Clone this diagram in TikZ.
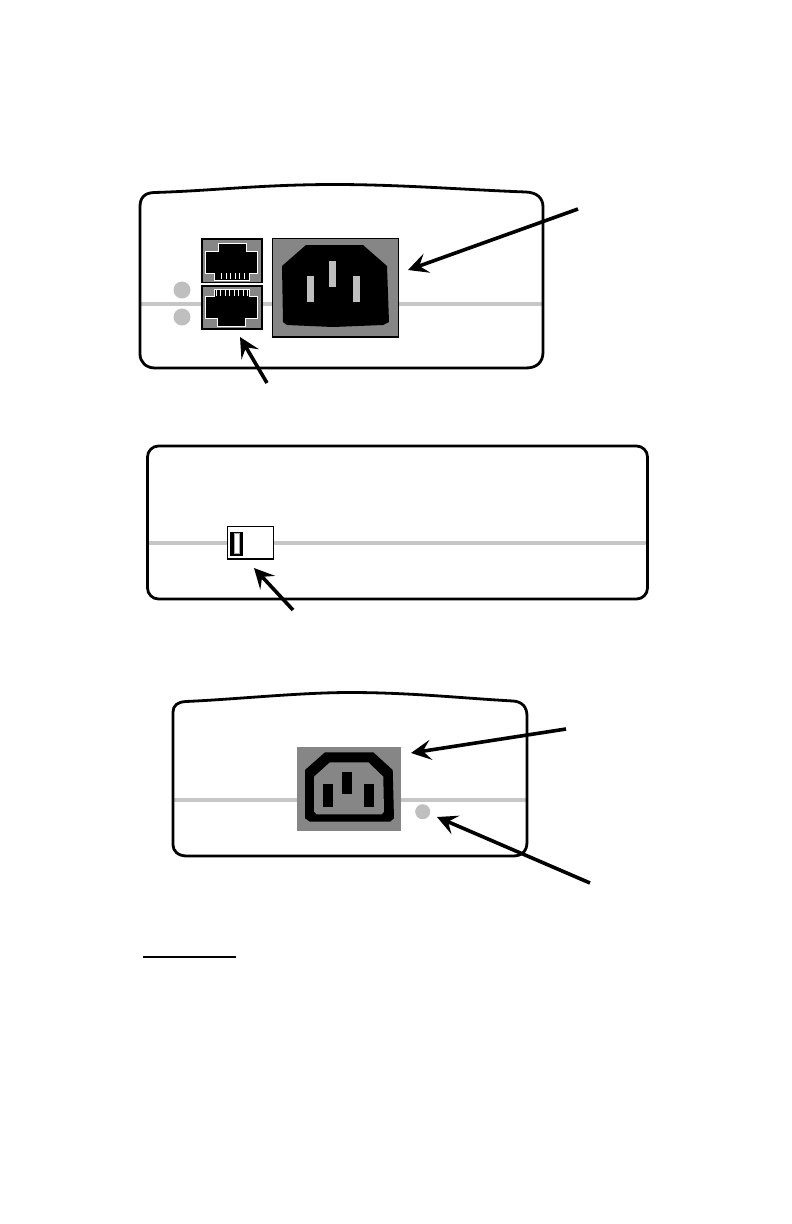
\documentclass[tikz,border=0pt]{standalone}
\usetikzlibrary{arrows.meta}

\tikzset{
 shell/.style={black, line width=2.8pt, line join=round},
 seam/.style={gray!45, line width=3.4pt},
 callout/.style={black, line width=3.6pt, -{Stealth[length=20pt,width=20pt,inset=8pt]}},
 panel/.style={fill=gray!95!white},
 lamp/.style={fill=gray!50},
 contact/.style={white, line width=1pt},
}

\begin{document}
\begin{tikzpicture}[x=1pt, y=-1pt]
\useasboundingbox (0,0) rectangle (792,1224);

% first housing
\draw[seam] (140,304)--(542,304);
\draw[shell] (140,207) .. controls (140,198) and (144,193) .. (154,192.5)
 .. controls (210,191) and (260,184.5) .. (335,184.5)
 .. controls (400,184.5) and (470,190) .. (526,192)
 .. controls (537,192.5) and (543,198) .. (543,207)
 -- (543,352) .. controls (543,362) and (537,368) .. (526,368)
 -- (155,368) .. controls (146,368) and (140,362) .. (140,354) -- cycle;
\fill[lamp] (182,290) circle (8.5);
\fill[lamp] (182,317) circle (8.5);

% upper jack
\draw[black, line width=1.8pt, panel] (201.7,239.3) rectangle (261.7,283);
\draw[white, line width=1pt, fill=black] (218.3,243.3)--(246.7,243.3)--(246.7,251)--(257.7,251)--(257.7,273.3)--(249,273.3)--(249,280)--(214,280)--(214,273.3)--(205,273.3)--(205,251)--(218.3,251)--cycle;
\foreach \x in {221.7,226.2,230.7,235.2,239.7,244.2} {
 \draw[contact] (\x,273.3) --++(0,5.5);
}
% lower jack
\draw[black, line width=1.8pt, panel] (201.7,285.7) rectangle (261.7,329.3);
\fill[white] (201,283.2) rectangle (262.6,285.4);
\draw[white, line width=1pt, fill=black] (214.3,289.3)--(249,289.3)--(249,296)--(257.7,296)--(257.7,318.3)--(245,318.3)--(245,326.7)--(217.3,326.7)--(217.3,318.3)--(205,318.3)--(205,296)--(214.3,296)--cycle;
\foreach \x in {216,220.5,225,229.5,234,238.5,243,247.5} {
 \draw[contact] (\x,289.5) --++(0,6.5);
}

% mains inlet
\draw[panel] (271.7,237.7) rectangle (398,336);
\draw[black, line width=1pt] (271.7,337)--(398.5,337);
\fill[black] (306,245)--(363,245)--(387,266)--(389,322)--(383,325)--(333,327)--(287,325)--(283,322)--(282,266)--cycle;
\foreach \x/\y in {307/276,329/261,353/276} {
 \fill[gray!50] (\x,\y) rectangle ++(7,26);
}

\coordinate (inletTail) at (578,209);
\coordinate (inletTip) at (408,270);
\draw[callout] (inletTail)--(inletTip);
\coordinate (jackTail) at (267,383);
\coordinate (jackTip) at (240,337);
\draw[callout] (jackTail)--(jackTip);

% second housing
\draw[seam] (147,543)--(648,543);
\draw[shell, rounded corners=11pt] (147.5,446)--(647.5,446)--(647.5,599)--(147.5,599)--cycle;
\draw[black, fill=white, line width=1.4pt] (227.3,526.7) rectangle (273.3,559);
\fill[black] (230,531.7) rectangle (242.7,556);
\draw[gray!70, line width=.7pt, fill=white] (234.7,533.5) rectangle (239,553);

\coordinate (usbTail) at (293,610);
\coordinate (usbTip) at (254,568);
\draw[callout] (usbTail)--(usbTip);

% third housing
\draw[seam] (174,800)--(526,800);
\draw[shell] (173,712) .. controls (173,705) and (178,702) .. (186,701.5)
 .. controls (240,699) and (300,692.5) .. (350,692.5)
 .. controls (410,692.5) and (460,698) .. (513,701)
 .. controls (522,701.5) and (527,707) .. (527,716)
 -- (527,842) .. controls (527,851) and (522,856) .. (513,856)
 -- (187,856) .. controls (178,856) and (173,851) .. (173,845) -- cycle;

\fill[gray!95!white] (297.3,746.7) rectangle (400.7,830.7);
\fill[black] (325,752.3)--(373.3,752.3)--(392.7,770)--(394,818.3)--(390,821.7)--(310,821.7)--(305,818.3)--(305,770)--cycle;
\fill[gray!95!white] (330,762.3)--(368.3,762.3)--(383.3,776.7)--(384,811.7)--(381.7,814.3)--(316.7,814.3)--(314,811.7)--(314,776.7)--cycle;
\foreach \x/\y in {323.3/784,342/771.7,364/784} {
 \fill[black] (\x,\y) rectangle ++(9.5,22.5);
}
\fill[lamp] (422.7,811.7) circle (7.5);

\coordinate (outletTail) at (566,729);
\coordinate (outletTip) at (411,753);
\draw[callout] (outletTail)--(outletTip);
\coordinate (lampTail) at (590,883);
\coordinate (lampTip) at (437,817);
\draw[callout] (lampTail)--(lampTip);

\draw[black, line width=2pt] (143,957)--(236,957);
\end{tikzpicture}
\end{document}
